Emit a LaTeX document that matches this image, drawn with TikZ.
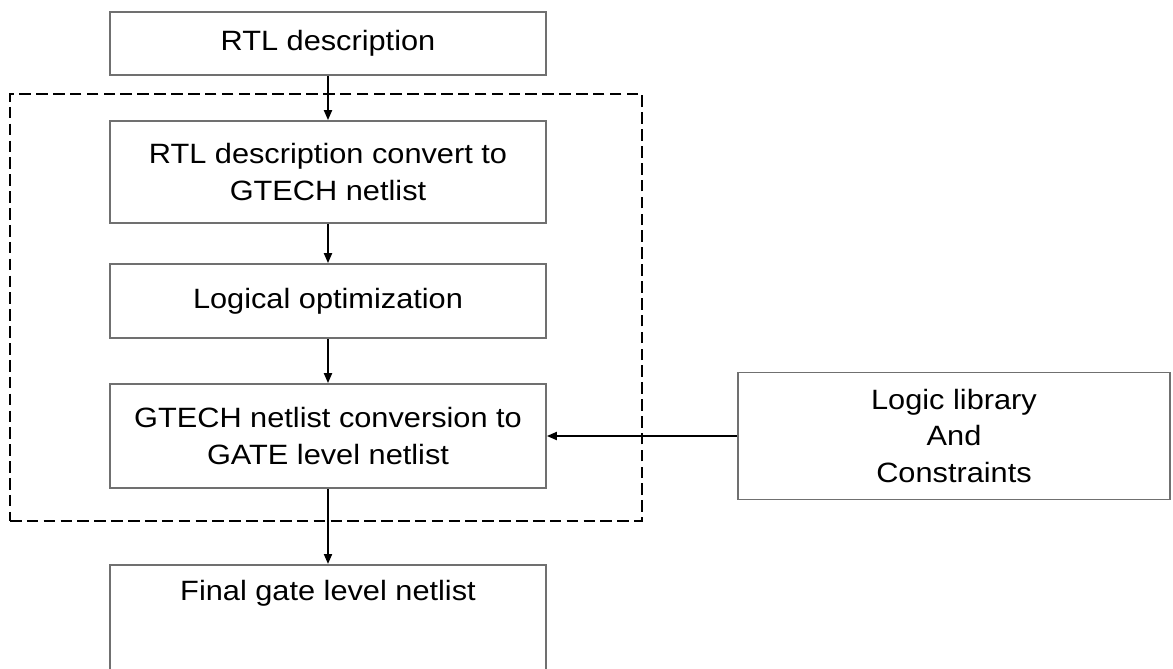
\documentclass[tikz,border=0pt]{standalone}
\usepackage{fontspec}
\setmainfont{Liberation Sans}[FakeStretch=1.1]
\usepackage{tikz}
\usetikzlibrary{arrows.meta,positioning}
\definecolor{ink} {HTML}{000000}
\definecolor{edge}{HTML}{707070}
\tikzset{
  box/.style   ={draw=edge, fill=white, line width=1pt,
                 minimum width=8.72cm, align=center, inner sep=0pt,
                 font=\fontsize{15.9}{21}\selectfont},
  arr/.style   ={-{Triangle[length=2mm,width=1.6mm]}, line width=1.1pt,
                 draw=ink},
  group/.style ={draw=ink, dash pattern=on 6.6pt off 3pt, line width=1.1pt,
                 inner sep=0pt},
}
\begin{document}
\begin{tikzpicture}[x=1cm,y=1cm]
  \useasboundingbox (0,0) rectangle (23.46,-13.36);
  % synthesis steps
  \node[group,minimum width=12.64cm,minimum height=8.54cm] (synth) at (6.52,-6.15) {};
  \node[box,minimum height=1.26cm] (rtl) at (6.56,-0.87) {RTL description};
  \node[box,minimum height=2.04cm] (gtech) at (6.56,-3.44)
    {RTL description convert to\\GTECH netlist};
  \node[box,minimum height=1.48cm] (opt) at (6.56,-6.02) {Logical optimization};
  \node[box,minimum height=2.08cm] (map) at (6.56,-8.72)
    {GTECH netlist conversion to\\GATE level netlist};
  \node[box,anchor=north,text height=0.72cm,text depth=2.1cm] (final) at (6.56,-11.28)
    {Final gate level netlist};
  % library input
  \node[box,minimum width=8.64cm,minimum height=2.54cm] (lib) at (19.08,-8.72)
    {Logic library\\And\\Constraints};
  \draw[arr] (rtl) -- (gtech);
  \draw[arr] (gtech) -- (opt);
  \draw[arr] (opt) -- (map);
  \draw[arr] (map) -- (final);
  \draw[arr] (lib) -- (map);
\end{tikzpicture}
\end{document}
